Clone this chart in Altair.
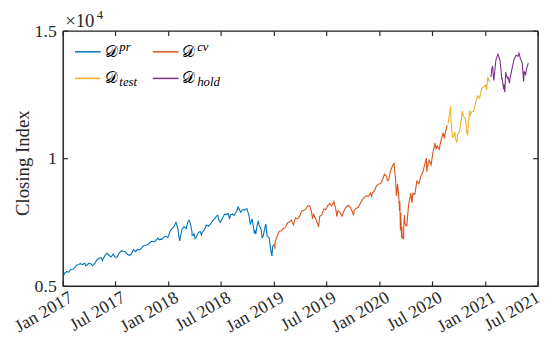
import altair as alt
import pandas as pd

# ---------------- data ----------------
pr_dates = [
    "2017-01-03", "2017-01-06", "2017-01-13", "2017-01-20", "2017-01-27", "2017-02-03", "2017-02-10",
    "2017-02-17", "2017-02-24", "2017-03-01", "2017-03-03", "2017-03-10", "2017-03-17", "2017-03-21",
    "2017-03-24", "2017-03-31", "2017-04-07", "2017-04-13", "2017-04-21", "2017-04-28", "2017-05-05",
    "2017-05-12", "2017-05-17", "2017-05-19", "2017-05-26", "2017-06-02", "2017-06-09", "2017-06-16",
    "2017-06-23", "2017-06-29", "2017-06-30", "2017-07-07", "2017-07-14", "2017-07-21", "2017-07-28",
    "2017-08-04", "2017-08-11", "2017-08-18", "2017-08-25", "2017-09-01", "2017-09-08", "2017-09-15",
    "2017-09-22", "2017-09-29", "2017-10-06", "2017-10-13", "2017-10-20", "2017-10-27", "2017-11-03",
    "2017-11-10", "2017-11-17", "2017-11-24", "2017-11-29", "2017-12-01", "2017-12-08", "2017-12-15",
    "2017-12-22", "2017-12-29", "2018-01-05", "2018-01-12", "2018-01-19", "2018-01-26", "2018-02-02",
    "2018-02-05", "2018-02-08", "2018-02-09", "2018-02-16", "2018-02-23", "2018-03-02", "2018-03-09",
    "2018-03-12", "2018-03-16", "2018-03-22", "2018-03-23", "2018-03-27", "2018-03-29", "2018-04-02",
    "2018-04-06", "2018-04-13", "2018-04-20", "2018-04-24", "2018-04-27", "2018-05-04", "2018-05-11",
    "2018-05-18", "2018-05-25", "2018-06-01", "2018-06-08", "2018-06-15", "2018-06-20", "2018-06-25",
    "2018-06-29", "2018-07-06", "2018-07-13", "2018-07-20", "2018-07-26", "2018-07-30", "2018-08-03",
    "2018-08-10", "2018-08-15", "2018-08-17", "2018-08-24", "2018-08-29", "2018-09-07", "2018-09-14",
    "2018-09-21", "2018-09-28", "2018-10-05", "2018-10-10", "2018-10-12", "2018-10-16", "2018-10-19",
    "2018-10-24", "2018-10-26", "2018-10-29", "2018-11-02", "2018-11-07", "2018-11-09", "2018-11-16",
    "2018-11-20", "2018-11-23", "2018-11-30", "2018-12-03", "2018-12-07", "2018-12-14", "2018-12-21",
    "2018-12-24", "2018-12-26", "2018-12-31",
]
pr_values = [
    5429, 5521, 5574, 5555, 5660, 5667, 5734,
    5838, 5845, 5904, 5870, 5861, 5901, 5794,
    5828, 5912, 5878, 5805, 5910, 6047, 6100,
    6121, 6011, 6084, 6210, 6305, 6208, 6151,
    6265, 6144, 6140, 6153, 6312, 6388, 6374,
    6351, 6256, 6216, 6265, 6435, 6360, 6448,
    6426, 6496, 6590, 6606, 6629, 6701, 6764,
    6751, 6783, 6890, 6825, 6848, 6840, 6936,
    6960, 6903, 7136, 7261, 7336, 7506, 7241,
    6968, 6777, 6874, 7239, 7337, 7258, 7560,
    7588, 7482, 7167, 6993, 7009, 7063, 6870,
    6915, 7107, 7146, 7008, 7120, 7210, 7403,
    7354, 7434, 7554, 7646, 7746, 7782, 7532,
    7510, 7689, 7826, 7820, 7852, 7630, 7812,
    7839, 7775, 7816, 7945, 8110, 7903, 8010,
    7987, 8046, 7788, 7423, 7497, 7645, 7449,
    7108, 7167, 7050, 7357, 7570, 7407, 7248,
    6909, 6939, 7330, 7442, 6969, 6910, 6333,
    6193, 6554, 6635,
]

cv_dates = [
    "2019-01-02", "2019-01-03", "2019-01-04", "2019-01-11", "2019-01-18", "2019-01-25", "2019-02-01",
    "2019-02-08", "2019-02-15", "2019-02-22", "2019-03-01", "2019-03-08", "2019-03-15", "2019-03-22",
    "2019-03-29", "2019-04-05", "2019-04-12", "2019-04-18", "2019-04-26", "2019-05-03", "2019-05-10",
    "2019-05-13", "2019-05-17", "2019-05-24", "2019-05-31", "2019-06-03", "2019-06-07", "2019-06-14",
    "2019-06-21", "2019-06-28", "2019-07-05", "2019-07-12", "2019-07-19", "2019-07-26", "2019-08-02",
    "2019-08-05", "2019-08-09", "2019-08-16", "2019-08-23", "2019-08-30", "2019-09-06", "2019-09-13",
    "2019-09-20", "2019-09-27", "2019-10-02", "2019-10-04", "2019-10-11", "2019-10-18", "2019-10-25",
    "2019-11-01", "2019-11-08", "2019-11-15", "2019-11-22", "2019-11-29", "2019-12-03", "2019-12-06",
    "2019-12-13", "2019-12-20", "2019-12-27", "2020-01-03", "2020-01-10", "2020-01-17", "2020-01-24",
    "2020-01-27", "2020-01-31", "2020-02-07", "2020-02-14", "2020-02-19", "2020-02-21", "2020-02-24",
    "2020-02-27", "2020-02-28", "2020-03-02", "2020-03-06", "2020-03-09", "2020-03-10", "2020-03-12",
    "2020-03-13", "2020-03-16", "2020-03-17", "2020-03-18", "2020-03-20", "2020-03-23", "2020-03-24",
    "2020-03-26", "2020-03-27", "2020-04-01", "2020-04-03", "2020-04-09", "2020-04-17", "2020-04-21",
    "2020-04-24", "2020-05-01", "2020-05-08", "2020-05-15", "2020-05-22", "2020-05-29", "2020-06-05",
    "2020-06-10", "2020-06-11", "2020-06-12", "2020-06-19", "2020-06-26", "2020-07-02", "2020-07-10",
    "2020-07-13", "2020-07-17", "2020-07-24", "2020-07-31", "2020-08-07", "2020-08-11", "2020-08-14",
    "2020-08-21",
]
cv_values = [
    6665, 6463, 6739, 6971, 7157, 7165, 7264,
    7298, 7472, 7527, 7595, 7408, 7688, 7643,
    7729, 7939, 7984, 7998, 8146, 8164, 7917,
    7647, 7816, 7637, 7453, 7333, 7742, 7797,
    8032, 8006, 8162, 8244, 8146, 8330, 8004,
    7726, 7959, 7896, 7752, 7963, 8103, 8177,
    8118, 7940, 7785, 7982, 8057, 8090, 8243,
    8386, 8475, 8541, 8520, 8665, 8521, 8657,
    8735, 8925, 9007, 9021, 9179, 9389, 9315,
    9139, 9151, 9520, 9731, 9817, 9577, 9221,
    8567, 8567, 9018, 8575, 7950, 8344, 7201,
    7875, 6905, 7335, 6990, 6880, 6861, 7418,
    7797, 7502, 7360, 7373, 8153, 8650, 8263,
    8634, 8605, 9121, 9015, 9325, 9490, 9815,
    10020, 9493, 9589, 9946, 9757, 10208, 10617,
    10391, 10503, 10363, 10745, 11011, 10782, 11019,
    11312,
]

test_dates = [
    "2020-08-24", "2020-08-28", "2020-09-02", "2020-09-03", "2020-09-04", "2020-09-08", "2020-09-11",
    "2020-09-16", "2020-09-18", "2020-09-23", "2020-09-25", "2020-10-02", "2020-10-09", "2020-10-12",
    "2020-10-16", "2020-10-23", "2020-10-28", "2020-10-30", "2020-11-04", "2020-11-06", "2020-11-09",
    "2020-11-13", "2020-11-20", "2020-11-27", "2020-12-04", "2020-12-11", "2020-12-18", "2020-12-24",
    "2020-12-31", "2021-01-04", "2021-01-08", "2021-01-15",
]
test_values = [
    11380, 11696, 12056, 11458, 11313, 10848, 10854,
    11050, 10794, 10633, 10914, 11076, 11580, 11876,
    11672, 11548, 11005, 10912, 11590, 11895, 11714,
    11830, 11855, 12206, 12464, 12378, 12756, 12805,
    12888, 12698, 13202, 12998,
]

hold_dates = [
    "2021-01-19", "2021-01-22", "2021-01-25", "2021-01-27", "2021-01-29", "2021-02-05", "2021-02-12",
    "2021-02-19", "2021-02-23", "2021-02-25", "2021-02-26", "2021-03-04", "2021-03-05", "2021-03-08",
    "2021-03-11", "2021-03-12", "2021-03-18", "2021-03-19", "2021-03-24", "2021-03-26", "2021-04-01",
    "2021-04-09", "2021-04-16", "2021-04-23", "2021-04-26", "2021-04-30", "2021-05-07", "2021-05-12",
    "2021-05-14", "2021-05-19", "2021-05-21", "2021-05-28",
]
hold_values = [
    13197, 13543, 13635, 13271, 13070, 13856, 14095,
    13874, 13465, 13119, 13192, 12723, 12920, 12609,
    13399, 13320, 13116, 13215, 12962, 13138, 13480,
    13900, 14052, 14016, 14138, 13962, 13752, 13031,
    13430, 13300, 13471, 13748,
]

series_names = ["pr", "cv", "test", "hold"]
series_colors = ["#0072BD", "#D95319", "#EDB120", "#7E2F8E"]
legend_scripts = ["pr", "cv", "test", "hold"]

x_tick_months = [(2017, 1), (2017, 7), (2018, 1), (2018, 7), (2019, 1), (2019, 7),
                 (2020, 1), (2020, 7), (2021, 1), (2021, 7)]
y_ticks = [5000, 10000, 15000]

# ---------------- build tables ----------------
frames = []
for name, d, v in zip(series_names, [pr_dates, cv_dates, test_dates, hold_dates],
                      [pr_values, cv_values, test_values, hold_values]):
    frames.append(pd.DataFrame({"date": d, "value": v, "series": name}))
df = pd.concat(frames, ignore_index=True)

tick_df = pd.DataFrame({"date": [f"{y}-{m:02d}-01" for y, m in x_tick_months]})
ytick_df = pd.DataFrame({"value": y_ticks})
one = pd.DataFrame({"k": [0]})

FONT = "Liberation Serif"
AX = "#262626"
W, H = 482, 259

xscale = alt.Scale(type="utc",
                   domain=[alt.DateTime(year=2017, month=1, date=1, utc=True),
                           alt.DateTime(year=2021, month=7, date=1, utc=True)])
yscale = alt.Scale(domain=[5000, 15000], nice=False, zero=False)

x_axis = alt.Axis(
    values=[alt.DateTime(year=y, month=m, date=1, utc=True) for y, m in x_tick_months],
    labelExpr="utcFormat(datum.value, '%b %Y')",
    labelAngle=-30, labelAlign="right", labelBaseline="middle",
    labelPadding=10,
    labelOffset={"condition": {"test": "utcyear(datum.value) == 2021 && utcmonth(datum.value) == 6",
                               "value": 0},
                 "value": 8},
    labelFlush=False, labelOverlap=False,
    ticks=False, tickSize=0, domain=False, grid=False, title=None,
    labelFont=FONT, labelFontSize=18, labelColor=AX,
)
y_axis = alt.Axis(
    values=y_ticks, labelExpr="datum.value / 10000",
    ticks=False, tickSize=0, domain=False, grid=False,
    labelFont=FONT, labelFontSize=18, labelColor=AX, labelPadding=7,
    labelFlush=False, labelOverlap=False,
    title="Closing Index", titleFont=FONT, titleFontSize=19, titleFontWeight="normal",
    titleColor=AX, titleAngle=-90, titleX=-35, titleY=H / 2 + 4,
    titleAlign="center", titleBaseline="alphabetic",
)

lines = alt.Chart(df).mark_line(strokeWidth=1.1, clip=True).encode(
    x=alt.X("date:T", scale=xscale, axis=x_axis),
    y=alt.Y("value:Q", scale=yscale, axis=y_axis),
    color=alt.Color("series:N", scale=alt.Scale(domain=series_names, range=series_colors),
                    legend=None),
)

layers = []

# box around the plot area
for xa, xb, ya, yb in [(0, W, 0, 0), (0, W, H, H), (0, 0, 0, H), (W, W, 0, H)]:
    layers.append(alt.Chart(one).mark_rule(color=AX, strokeWidth=1.5).encode(
        x=alt.value(xa), x2=alt.value(xb), y=alt.value(ya), y2=alt.value(yb)))

# inward ticks (bottom, top)
for y0, y1 in [(H, H - 5), (0, 5)]:
    layers.append(alt.Chart(tick_df).mark_rule(color=AX, strokeWidth=1.2).encode(
        x=alt.X("date:T", scale=xscale, axis=x_axis), y=alt.value(y0), y2=alt.value(y1)))
# inward ticks (left, right)
for x0, x1 in [(0, 5), (W, W - 5)]:
    layers.append(alt.Chart(ytick_df).mark_rule(color=AX, strokeWidth=1.2).encode(
        y=alt.Y("value:Q", scale=yscale, axis=y_axis), x=alt.value(x0), x2=alt.value(x1)))

layers.append(lines)

# exponent label
layers.append(alt.Chart(one).mark_text(font=FONT, fontSize=19, color=AX, align="left",
                                       baseline="alphabetic", text="×10").encode(
    x=alt.value(2), y=alt.value(-4)))
layers.append(alt.Chart(one).mark_text(font=FONT, fontSize=13, color=AX, align="left",
                                       baseline="alphabetic", text="4").encode(
    x=alt.value(34), y=alt.value(-12)))

# legend (two columns, no box)
leg_pos = [(12, 21), (91, 21), (12, 48), (91, 48)]
for i, (lx, ly) in enumerate(leg_pos):
    sup = i < 2
    layers.append(alt.Chart(one).mark_rule(color=series_colors[i], strokeWidth=1.5).encode(
        x=alt.value(lx), x2=alt.value(lx + 26), y=alt.value(ly)))
    layers.append(alt.Chart(one).mark_text(font=FONT, fontSize=16, color="#000000",
                                           align="left", baseline="alphabetic",
                                           text="𝒟").encode(
        x=alt.value(lx + 30), y=alt.value(ly + 5)))
    layers.append(alt.Chart(one).mark_text(font=FONT, fontSize=13, fontStyle="italic",
                                           color="#000000", align="left",
                                           baseline="alphabetic",
                                           text=legend_scripts[i]).encode(
        x=alt.value(lx + 45), y=alt.value(ly - 1 if sup else ly + 8)))

chart = alt.layer(*layers).properties(
    width=W, height=H,
    padding={"left": 56, "top": 21, "right": 6, "bottom": 51},
    autosize=alt.AutoSizeParams(type="none"),
).configure_view(stroke=None).configure(background="white")

chart.save("out.html", embed_options={"renderer": "svg", "actions": False})
